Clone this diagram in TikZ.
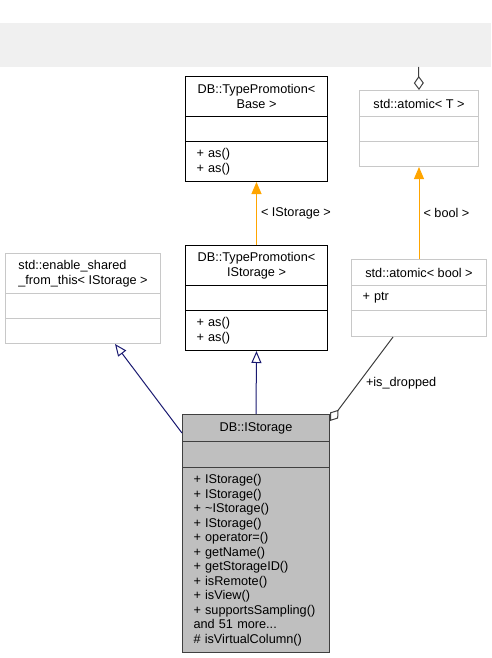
\documentclass[tikz,border=0pt]{standalone}
\usepackage{fontspec}
\setmainfont{Liberation Sans}
\usepackage{xcolor}
\usetikzlibrary{arrows.meta,positioning}
\definecolor{bandgray}{HTML}{F0F0F0}
\definecolor{lightframe}{HTML}{C8C8C8}
\definecolor{darkframe}{HTML}{404040}
\definecolor{mainfill}{HTML}{BFBFBF}
\definecolor{navyline}{HTML}{191970}
\definecolor{tmplorange}{HTML}{FFA500}
\begin{document}
\begin{tikzpicture}[x=1pt,y=-1pt,
  box/.style={draw=black, line width=1pt, inner sep=0pt, anchor=north west, font=\fontsize{12.7}{14.5}\selectfont},
  head/.style={box, align=center},
  list/.style={box, inner xsep=11pt, align=left},
  greybox/.style={draw=lightframe},
  mainbox/.style={draw=darkframe, fill=mainfill},
  inherit/.style={draw=navyline, line width=1pt, -{Triangle[open, length=12pt, width=10pt]}},
  tmpl/.style={draw=tmplorange, line width=1pt, -{Triangle[length=12pt, width=10pt]}},
  member/.style={draw=darkframe, line width=1pt, -{Diamond[open, length=14pt, width=10pt]}},
  lbl/.style={font=\fontsize{12.7}{14.5}\selectfont, inner sep=4pt}]
\useasboundingbox (0,0) rectangle (491,658);
\fill[bandgray] (0,23) rectangle (491,67);
% DB::TypePromotion< Base >
\node[head, minimum width=142pt, minimum height=40pt] (tpb) at (185,76) {DB::TypePromotion<\\Base >};
\node[list, text width=120pt, minimum height=25pt] (tpbattr) at (185,116) {};
\node[list, text width=120pt, minimum height=40pt] (tpbops) at (185,141) {+ as()\\+ as()};
% std::atomic< T >
\node[head, greybox, minimum width=119pt, minimum height=26pt] (atomT) at (359,90) {std::atomic< T >};
\node[list, greybox, text width=97pt, minimum height=25pt] (atomTattr) at (359,116) {};
\node[list, greybox, text width=97pt, minimum height=25pt] (atomTops) at (359,141) {};
% std::enable_shared_from_this< IStorage >
\node[head, greybox, align=left, minimum width=155pt, minimum height=40pt] (es) at (5,253) {std::enable\_shared\\\_from\_this< IStorage >};
\node[list, greybox, text width=133pt, minimum height=25pt] (esattr) at (5,293) {};
\node[list, greybox, text width=133pt, minimum height=25pt] (esops) at (5,318) {};
% DB::TypePromotion< IStorage >
\node[head, minimum width=142pt, minimum height=40pt] (tpi) at (185,245) {DB::TypePromotion<\\IStorage >};
\node[list, text width=120pt, minimum height=25pt] (tpiattr) at (185,285) {};
\node[list, text width=120pt, minimum height=40pt] (tpiops) at (185,310) {+ as()\\+ as()};
% std::atomic< bool >
\node[head, greybox, minimum width=135pt, minimum height=26pt] (atomB) at (351,259) {std::atomic< bool >};
\node[list, greybox, text width=113pt, minimum height=25pt] (atomBattr) at (351,285) {+ ptr};
\node[list, greybox, text width=113pt, minimum height=26pt] (atomBops) at (351,310) {};
% DB::IStorage
\node[head, mainbox, minimum width=147pt, minimum height=27pt] (ist) at (182,414) {DB::IStorage};
\node[list, mainbox, text width=125pt, minimum height=26pt] (istattr) at (182,441) {};
\node[list, mainbox, text width=125pt, minimum height=185pt] (istops) at (182,467) {+ IStorage()\\+ IStorage()\\+ \textasciitilde IStorage()\\+ IStorage()\\+ operator=()\\+ getName()\\+ getStorageID()\\+ isRemote()\\+ isView()\\+ supportsSampling()\\and 51 more...\\\# isVirtualColumn()};
% connectors
\coordinate (cut) at (418.5,67);
\draw[member] (cut) -- (atomT.north);
\draw[tmpl] (tpi.north) -- node[lbl, right] (lblI) {< IStorage >} (tpbops.south);
\draw[tmpl] (atomB.north) -- node[lbl, right] (lblB) {< bool >} (atomTops.south);
\draw[inherit] (ist.north) -- (tpiops.south);
\draw[inherit] ([yshift=-19pt]ist.north west) -- ([xshift=110pt]esops.south west);
\draw[member] ([xshift=42pt]atomBops.south west) -- node[lbl, right, yshift=-4pt] (lblD) {+is\_dropped} ([yshift=-7pt]ist.north east);
\end{tikzpicture}
\end{document}
